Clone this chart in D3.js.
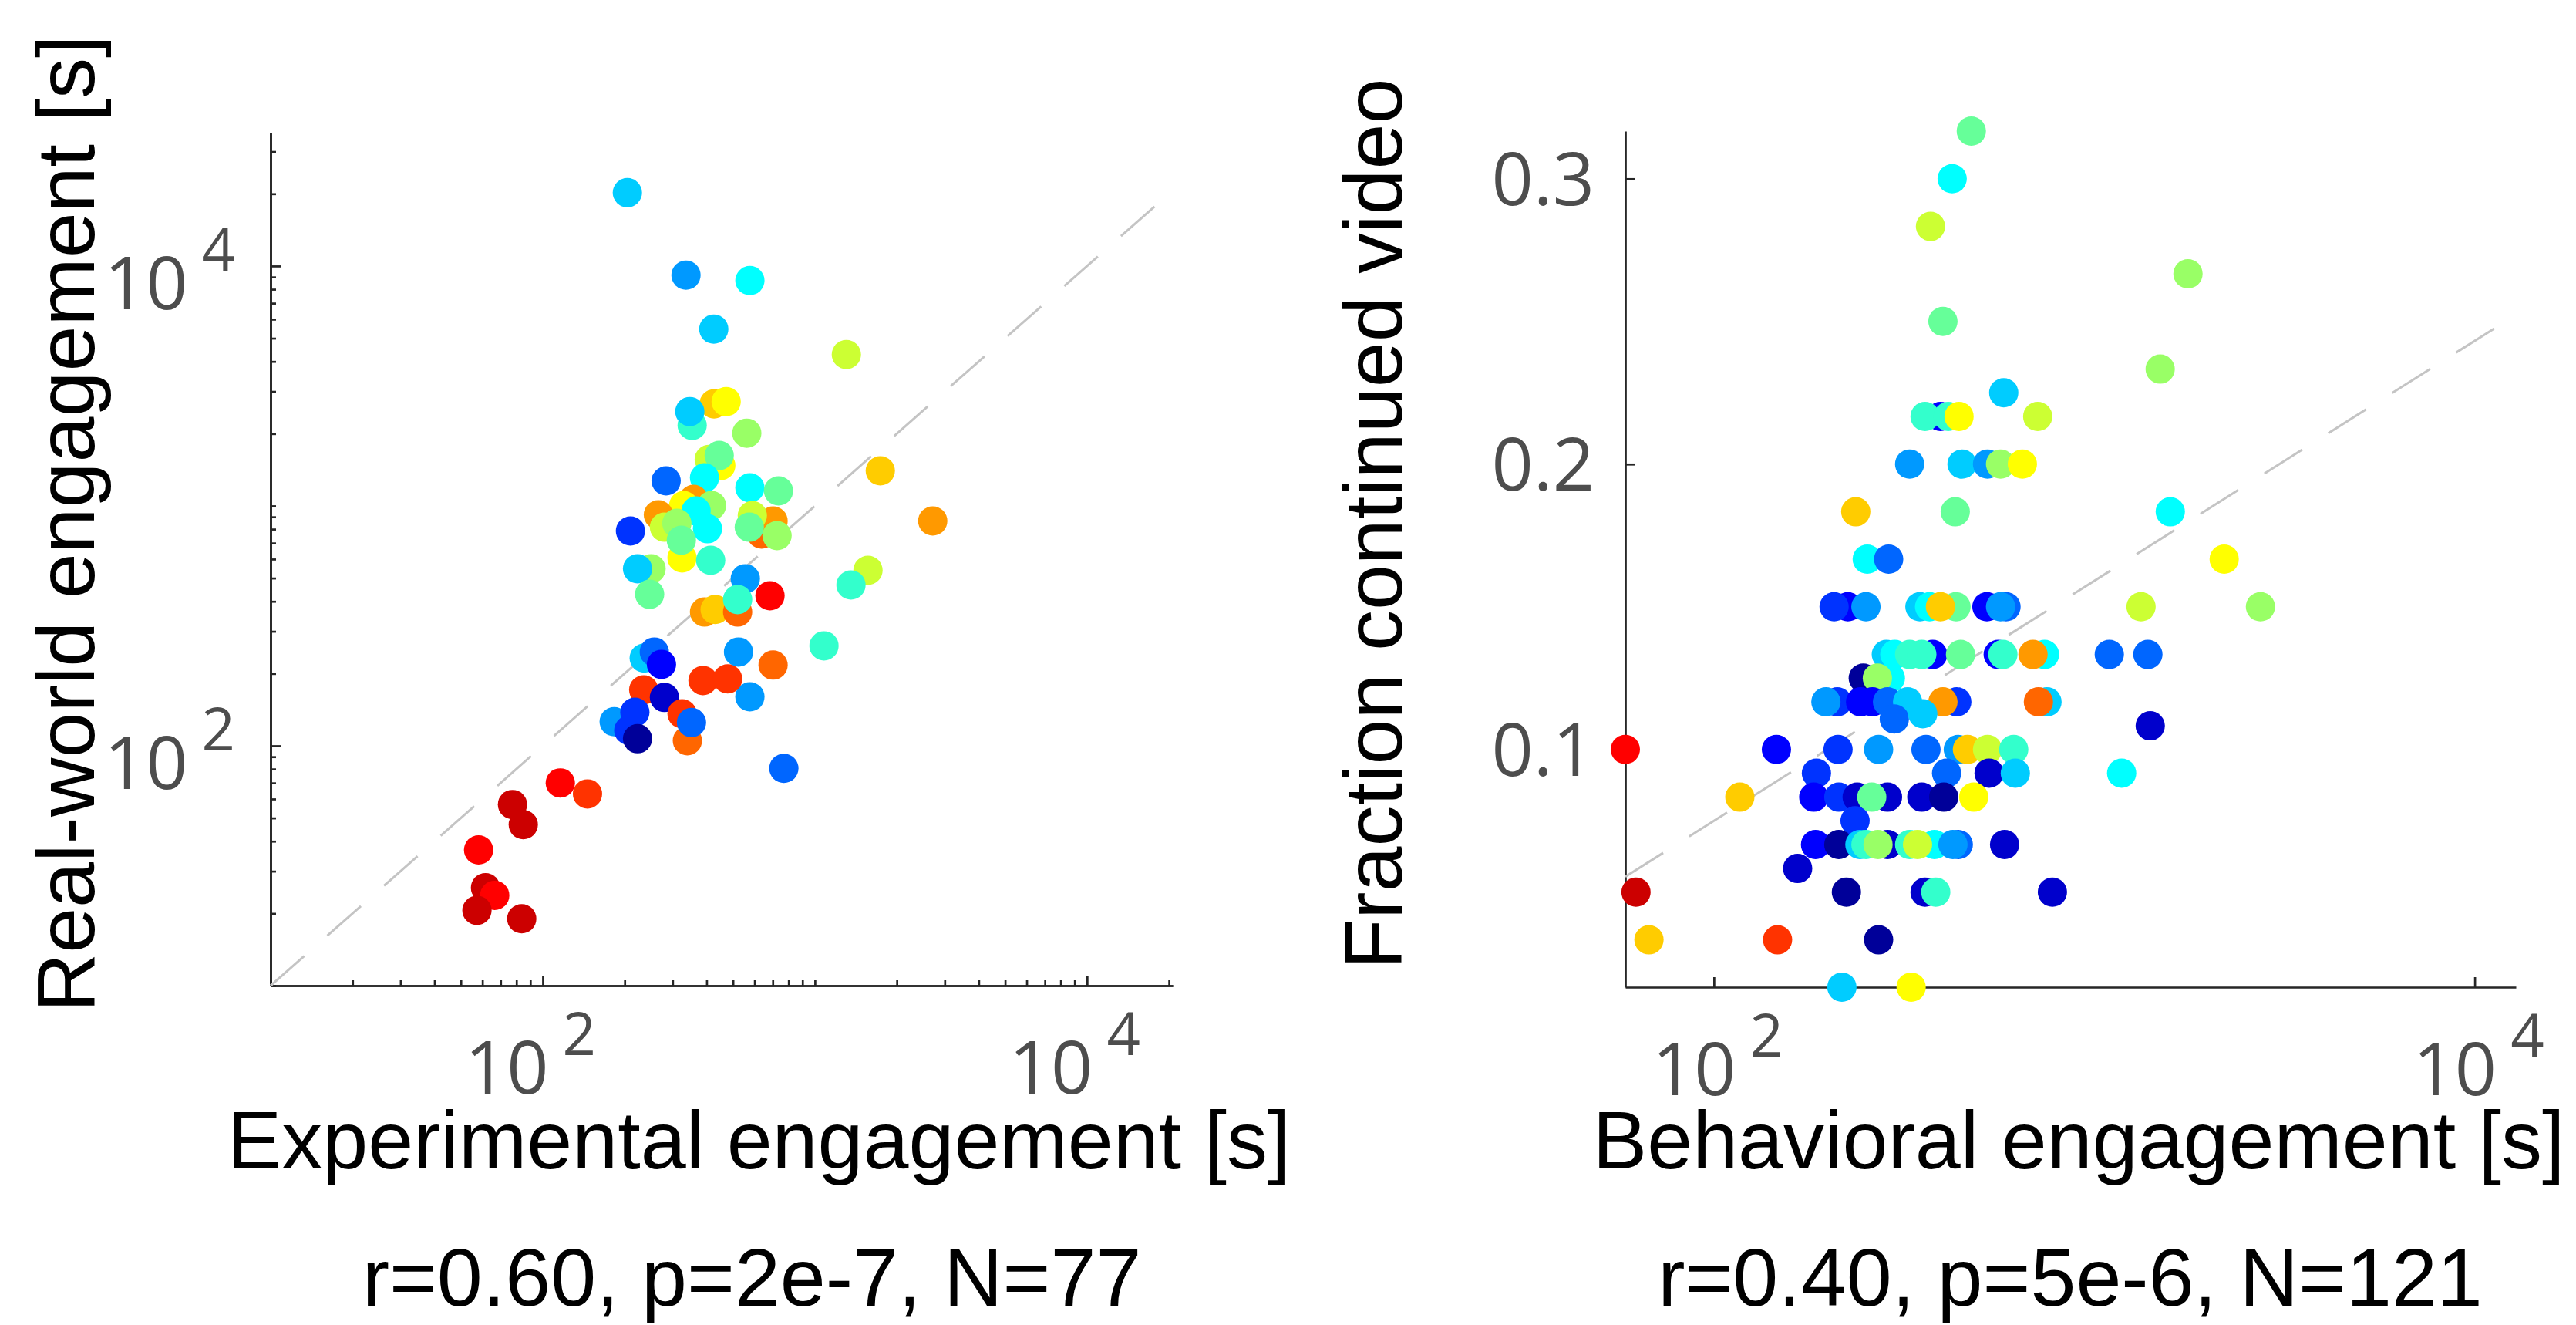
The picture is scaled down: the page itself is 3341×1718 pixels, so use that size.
<!DOCTYPE html>
<html>
<head>
<meta charset="utf-8">
<script src="https://cdn.jsdelivr.net/npm/d3@7"></script>
<style>
  body { margin: 0; background: #fff; }
  svg { display: block; }
  .lbl { font-family: "Liberation Sans", Arial, Helvetica, sans-serif; font-size: 106px; fill: #000; }
  .tlbl { font-family: "Open Sans", "DejaVu Sans", sans-serif; font-size: 95px; fill: #4d4d4d; }
</style>
</head>
<body>
<svg id="chart" width="3341" height="1718"></svg>
<script>
// left panel: experimental vs real-world engagement [s]
var leftX = [204.6, 336, 577, 425, 1305, 1739, 2710, 1567, 1357, 1080, 769,
  426, 472, 354, 347, 562, 409, 451, 445, 393, 284, 577, 735,
  358, 329.5, 417, 266, 366, 280, 311, 403, 325, 323, 414, 210,
  637, 702, 589, 574, 726, 250, 223, 247, 555, 684,
  393, 430, 520, 520, 702, 577, 524, 388, 478, 236, 257, 273, 235, 280,
  325, 340, 352, 183, 207, 218, 223,
  116, 146, 77.4, 84.8, 58.1, 61.6, 66.6, 57.3, 83.7];
var leftY = [20220, 9160, 8695, 5458, 4276, 1400, 865, 539, 468, 261, 80.5,
  2663, 2722, 2165, 2473, 2010, 1563, 1473, 1622, 1309, 1271, 1189, 1155,
  1064, 1003, 1003, 918, 952, 815, 846, 803, 607, 719, 593, 786,
  763, 865, 911, 815, 752, 547, 547, 428, 497, 422,
  361, 370, 361, 407, 217, 160, 246, 187, 190, 232, 246, 218.5, 171, 159,
  136, 105, 125, 126, 116, 138, 107,
  70, 63, 56.9, 46.9, 36.8, 25.6, 23.8, 20.6, 19.0];
// colour position on the jet map (0 = dark blue, 1 = dark red)
var leftC = [.325, .275, .375, .325, .575, .675, .725, .575, .425, .425, .225,
  .675, .625, .425, .325, .525, .575, .625, .475, .375, .225, .375, .475,
  .725, .625, .525, .725, .375, .575, .525, .375, .625, .475, .425, .175,
  .775, .725, .575, .475, .525, .525, .325, .475, .275, .875,
  .725, .675, .775, .425, .775, .275, .275, .825, .825, .325, .225, .125, .825, .075,
  .825, .775, .225, .275, .175, .175, .025,
  .875, .825, .925, .925, .875, .925, .875, .925, .925];
var leftFitX = [10, 20650];
var leftFitY = [10, 20650];

// right panel: behavioral engagement [s] vs fraction continued video
var rightX = [475, 423, 371, 1763, 400, 1490, 578,
  394, 359, 413, 441, 710,
  327, 449, 524, 567, 647,
  236, 431, 1584,
  253, 288, 2195,
  225, 207, 251, 348, 369, 433, 394, 522, 586, 567, 1327, 2734,
  284, 299, 327, 376, 352, 445, 559, 575, 740, 690, 1095, 1383,
  247, 291, 269,
  211, 197, 261, 243, 286, 323, 435, 400, 751, 713,
  298, 354, 1403,
  58.5, 146, 212, 271, 361, 439, 464, 524, 614,
  186, 409, 529, 620, 1180,
  117, 183, 213, 238, 286, 260, 352, 402, 482,
  235,
  185, 213, 242, 251, 286, 270, 327, 380, 343, 439, 425, 581,
  166,
  62.4, 223, 359, 383, 776,
  67.5, 147, 271,
  217, 330];
var rightY = [.3167, .3, .2833, .2667, .25, .2333, .225,
  .2167, .2167, .2167, .2167, .2167,
  .2, .2, .2, .2, .2,
  .1833, .1833, .1833,
  .1667, .1667, .1667,
  .15, .15, .15, .15, .15, .15, .15, .15, .15, .15, .15, .15,
  .1333, .1333, .1333, .1333, .1333, .1333, .1333, .1333, .1333, .1333, .1333, .1333,
  .125, .125, .125,
  .1167, .1167, .1167, .1167, .1167, .1167, .1167, .1167, .1167, .1167,
  .1107, .1125, .1083,
  .1, .1, .1, .1, .1, .1, .1, .1, .1,
  .0917, .0917, .0917, .0917, .0917,
  .0833, .0833, .0833, .0833, .0833, .0833, .0833, .0833, .0833,
  .075,
  .0667, .0667, .0667, .0667, .0667, .0667, .0667, .0667, .0667, .0667, .0667, .0667,
  .0583,
  .05, .05, .05, .05, .05,
  .0333, .0333, .0333,
  .0167, .0167];
var rightC = [.475, .375, .575, .525, .475, .525, .325,
  .125, .425, .425, .625, .575,
  .275, .325, .275, .525, .625,
  .675, .475, .375,
  .375, .225, .625,
  .125, .175, .275, .325, .375, .475, .675, .125, .225, .275, .575, .525,
  .325, .375, .425, .125, .425, .475, .125, .425, .375, .725, .225, .225,
  .025, .375, .525,
  .175, .275, .125, .125, .225, .325, .175, .725, .325, .775,
  .225, .325, .075,
  .875, .125, .175, .275, .225, .275, .675, .575, .425,
  .175, .225, .075, .325, .375,
  .675, .125, .175, .075, .075, .475, .075, .025, .625,
  .175,
  .125, .025, .325, .425, .075, .525, .425, .375, .575, .225, .275, .075,
  .075,
  .925, .025, .075, .425, .075,
  .675, .825, .025,
  .325, .625];
var rightFitX = [58.5, 12830];
var rightFitY = [0.0554, 0.2523];

var logMajor = [100, 10000];
var logExp = ['2', '4'];
var fracTicks = [0.1, 0.2, 0.3];
var fracLabels = ['0.1', '0.2', '0.3'];

var jet = d3.scaleLinear()
  .domain([0, .125, .375, .625, .875, 1])
  .range(['#000080', '#0000ff', '#00ffff', '#ffff00', '#ff0000', '#800000']);

var svg = d3.select('#chart');
svg.append('rect').attr('width', 3341).attr('height', 1718).attr('fill', '#fff');

var axisColor = '#262626';

function styleAxis(g) {
  g.select('.domain').attr('stroke', axisColor).attr('stroke-width', 2.7);
  g.selectAll('.tick line').attr('stroke', axisColor).attr('stroke-width', 2.7);
  g.selectAll('.tick text').remove();
}

function supLabel(g, x, y, anchor, exp) {
  var t = g.append('text').attr('class', 'tlbl')
    .attr('x', x).attr('y', y).attr('text-anchor', anchor);
  t.append('tspan').text('10');
  t.append('tspan').attr('dx', 18).attr('dy', -50).attr('font-size', 76).text(exp);
}

function panel(p) {
  var g = svg.append('g');
  var x = p.x, y = p.y;
  var x0 = x.range()[0], y0 = y.range()[0];

  // axes (ticks point inward)
  var xa = g.append('g').attr('transform', 'translate(0,' + y0 + ')');
  var ya = g.append('g').attr('transform', 'translate(' + x0 + ',0)');
  if (p.xMinor) {
    xa.append('g').call(d3.axisBottom(x).tickValues(p.xMinor).tickSize(-7).tickSizeOuter(0).tickFormat('')).call(styleAxis);
  }
  xa.append('g').call(d3.axisBottom(x).tickValues(p.xMajor).tickSize(-13).tickSizeOuter(0).tickFormat('')).call(styleAxis);
  if (p.yMinor) {
    ya.append('g').call(d3.axisLeft(y).tickValues(p.yMinor).tickSize(-7).tickSizeOuter(0).tickFormat('')).call(styleAxis);
  }
  ya.append('g').call(d3.axisLeft(y).tickValues(p.yMajor).tickSize(-13).tickSizeOuter(0).tickFormat('')).call(styleAxis);

  // tick labels
  p.xMajor.forEach(function(v, i) {
    supLabel(g, x(v) + p.xLabelShift, y0 + 140, 'middle', logExp[i]);
  });
  p.yMajor.forEach(function(v, i) {
    if (p.yLog) {
      supLabel(g, x0 - 46, y(v) + 56, 'end', logExp[i]);
    } else {
      g.append('text').attr('class', 'tlbl')
        .attr('x', x0 - 40).attr('y', y(v) + 34)
        .attr('text-anchor', 'end').text(fracLabels[i]);
    }
  });

  // dashed reference line
  var line = d3.line().x(function(d) { return x(d[0]); }).y(function(d) { return y(d[1]); });
  g.append('path')
    .attr('d', line(d3.zip(p.fitX, p.fitY)))
    .attr('fill', 'none')
    .attr('stroke', '#c4c4c4')
    .attr('stroke-width', 3)
    .attr('stroke-dasharray', '58,40');

  // dots
  g.append('g').selectAll('circle')
    .data(d3.range(p.dx.length))
    .enter().append('circle')
    .attr('cx', function(i) { return x(p.dx[i]); })
    .attr('cy', function(i) { return y(p.dy[i]); })
    .attr('r', 19)
    .attr('fill', function(i) { return jet(p.dc[i]); });

  // titles
  g.append('text').attr('class', 'lbl')
    .attr('x', p.xTitleX).attr('y', 1515)
    .attr('text-anchor', 'middle').text(p.xTitle);
  g.append('text').attr('class', 'lbl')
    .attr('transform', 'translate(' + p.yTitleX + ',679) rotate(-90)')
    .attr('text-anchor', 'middle').text(p.yTitle);
  g.append('text').attr('class', 'lbl')
    .attr('x', p.statX).attr('y', 1693)
    .attr('text-anchor', 'middle').text(p.stat);
}

var xl = d3.scaleLog().domain([10, 20650]).range([351, 1521]);
var yl = d3.scaleLog().domain([10, 35975]).range([1278, 172]);
panel({
  x: xl, y: yl, yLog: true,
  xMajor: logMajor, yMajor: logMajor,
  xMinor: xl.ticks().filter(function(v) { return logMajor.indexOf(v) < 0; }),
  yMinor: yl.ticks().filter(function(v) { return logMajor.indexOf(v) < 0; }),
  xLabelShift: -16,
  dx: leftX, dy: leftY, dc: leftC,
  fitX: leftFitX, fitY: leftFitY,
  xTitle: 'Experimental engagement [s]', xTitleX: 984,
  yTitle: 'Real-world engagement [s]', yTitleX: 122,
  stat: 'r=0.60, p=2e-7, N=77', statX: 975
});

var xr = d3.scaleLog().domain([58.5, 12830]).range([2108, 3263]);
var yr = d3.scaleLinear().domain([0.0167, 0.3167]).range([1280, 170]);
panel({
  x: xr, y: yr, yLog: false,
  xMajor: logMajor, yMajor: fracTicks,
  xLabelShift: 5,
  dx: rightX, dy: rightY, dc: rightC,
  fitX: rightFitX, fitY: rightFitY,
  xTitle: 'Behavioral engagement [s]', xTitleX: 2696,
  yTitle: 'Fraction continued video', yTitleX: 1818,
  stat: 'r=0.40, p=5e-6, N=121', statX: 2685
});
</script>
</body>
</html>
